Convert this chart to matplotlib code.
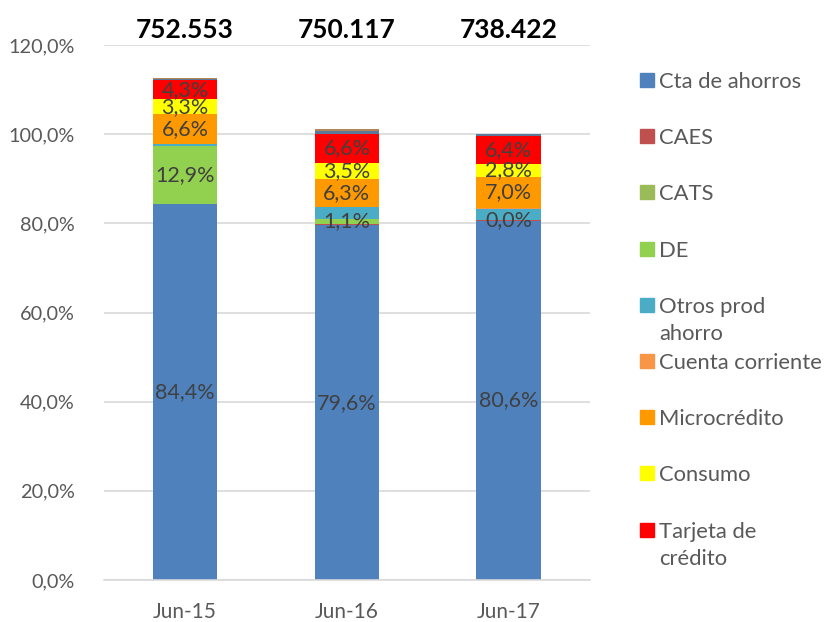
import matplotlib
matplotlib.use("Agg")
import numpy as np
from matplotlib import pyplot as plt
from matplotlib.patches import Rectangle

plt.rcParams['font.family'] = ['Lato', 'DejaVu Sans']

# data (percent of total)
periods = ['Jun-15', 'Jun-16', 'Jun-17']
totals = ['752.553', '750.117', '738.422']

series = ['Cta de ahorros', 'CAES', 'CATS', 'DE', 'Otros prod\nahorro',
          'Cuenta corriente', 'Microcrédito', 'Consumo', 'Tarjeta de\ncrédito']
cta_ahorros = [84.4, 79.6, 80.6]
caes = [0.0, 0.2, 0.1]
cats = [0.0, 0.1, 0.0]
de = [12.9, 1.1, 0.0]
otros_ahorro = [0.6, 2.6, 2.6]
cuenta_corriente = [0.0, 0.1, 0.2]
microcredito = [6.6, 6.3, 7.0]
consumo = [3.3, 3.5, 2.8]
tarjeta = [4.3, 6.6, 6.4]
# small unlabelled series at the top of each bar
resto_a = [0.2, 0.6, 0.3]
resto_b = [0.3, 0.4, 0.1]

values = [cta_ahorros, caes, cats, de, otros_ahorro, cuenta_corriente,
          microcredito, consumo, tarjeta]
colors = ['#4F81BD', '#C0504D', '#9BBB59', '#92D050', '#4BACC6',
          '#F79646', '#FF9900', '#FFFF00', '#FF0000']
labelled = {'Cta de ahorros', 'DE', 'Microcrédito', 'Consumo', 'Tarjeta de\ncrédito'}

fig = plt.figure(figsize=(8.25, 6.22), dpi=100)
ax = fig.add_axes([0.126, 0.0675, 0.589, 0.860])

x = np.arange(len(periods))
bottom = np.zeros(len(periods))
for name, vals, col in zip(series, values, colors):
    vals = np.array(vals)
    ax.bar(x, vals, 0.4, bottom=bottom, color=col, zorder=2)
    if name in labelled:
        for xi, b, v in zip(x, bottom, vals):
            ax.text(xi, b + v / 2, f'{v:.1f}%'.replace('.', ','), ha='center',
                    va='center', fontsize=15.5, color='#404040', zorder=3)
    bottom += vals

for vals, col in [(resto_a, '#5B7A99'), (resto_b, '#B5835A')]:
    ax.bar(x, vals, 0.4, bottom=bottom, color=col, zorder=2)
    bottom += np.array(vals)

for xi, t in zip(x, totals):
    ax.text(xi, 1.005, t, transform=ax.get_xaxis_transform(), ha='center',
            va='bottom', fontsize=19, fontweight='bold', color='black')

ax.set_xlim(-0.5, 2.5)
ax.set_ylim(0, 120)
ax.set_yticks(np.arange(0, 121, 20))
ax.set_yticklabels([f'{v:.1f}%'.replace('.', ',') for v in np.arange(0, 121, 20)])
ax.set_xticks(x)
ax.set_xticklabels(periods)
ax.tick_params(axis='both', length=0, labelsize=14.3, colors='#595959')
ax.tick_params(axis='x', labelsize=15, pad=16)
ax.tick_params(axis='y', pad=21)
ax.grid(axis='y', color='#D9D9D9', lw=1.2, zorder=0)
for s in ['top', 'right', 'left']:
    ax.spines[s].set_visible(False)
ax.spines['bottom'].set_color('#D9D9D9')
ax.spines['bottom'].set_linewidth(1.2)

# legend drawn by hand to keep Excel's even slots
W, H = 825, 622
for i, (name, col) in enumerate(zip(series, colors)):
    yc = 80 + i * 56.2
    fig.patches.append(Rectangle((640 / W, 1 - (yc + 7) / H), 14 / W, 14 / H,
                                 transform=fig.transFigure, color=col))
    fig.text(659 / W, 1 - (yc - 8) / H, name, ha='left', va='top',
             fontsize=15.8, color='#595959', linespacing=1.45)

fig.savefig('out.png', dpi=100)
